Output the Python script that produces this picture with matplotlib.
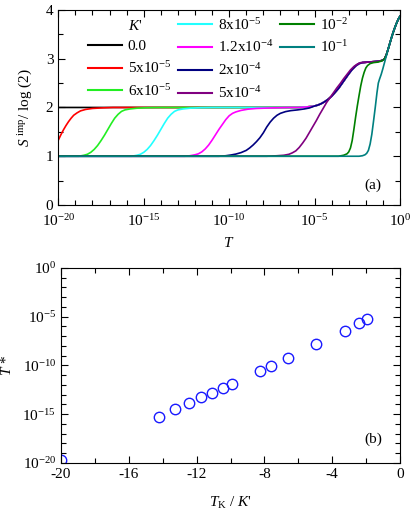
import numpy as np
import matplotlib
matplotlib.use('Agg')
import matplotlib.pyplot as plt
from matplotlib.lines import Line2D
from matplotlib.ticker import MultipleLocator, NullFormatter, LogFormatterMathtext

plt.rcParams['font.family'] = 'Liberation Serif'
plt.rcParams['mathtext.fontset'] = 'custom'
plt.rcParams['mathtext.rm'] = 'Liberation Serif'
plt.rcParams['mathtext.it'] = 'Liberation Serif:italic'
plt.rcParams['axes.unicode_minus'] = False
plt.rcParams['font.size'] = 11

# ---- panel (a): S_imp / log 2 against log10 T ----
tail_logT = [-6.0, -5.5, -5.2, -5.0, -4.8, -4.6, -4.4, -4.2, -4.0, -3.8, -3.6, -3.4,
             -3.2, -3.0, -2.8, -2.6, -2.4, -2.2, -1.9, -1.5, -1.2, -1.0, -0.9, -0.8,
             -0.7, -0.6, -0.5, -0.4, -0.3, -0.2, -0.1, 0.0]
tail_S = [2.0, 2.01, 2.02, 2.03, 2.05, 2.08, 2.12, 2.17, 2.23, 2.31, 2.39, 2.49,
          2.59, 2.69, 2.78, 2.85, 2.9, 2.92, 2.93, 2.94, 2.95, 2.97, 3.0, 3.08,
          3.19, 3.31, 3.43, 3.54, 3.64, 3.73, 3.81, 3.87]

k0_logT = [-20.0]
k0_S = [2.0]

k5e5_logT = [-20.0, -19.85, -19.7, -19.55, -19.4, -19.25, -19.1, -18.9, -18.7, -18.4,
             -18.0, -17.5, -16.8]
k5e5_S = [1.33, 1.44, 1.54, 1.63, 1.71, 1.78, 1.84, 1.89, 1.93, 1.96, 1.98, 1.99, 2.0]

k6e5_logT = [-20.0, -18.8, -18.5, -18.3, -18.1, -17.9, -17.7, -17.5, -17.3, -17.1,
             -16.9, -16.7, -16.5, -16.3, -16.1, -15.8, -15.4, -14.8, -14.0]
k6e5_S = [1.0, 1.0, 1.02, 1.04, 1.08, 1.14, 1.22, 1.32, 1.43, 1.55, 1.67, 1.78, 1.86,
          1.92, 1.95, 1.97, 1.985, 1.995, 2.0]

k8e5_logT = [-20.0, -15.7, -15.4, -15.2, -15.0, -14.8, -14.6, -14.4, -14.2, -14.0,
             -13.8, -13.6, -13.4, -13.2, -13.0, -12.7, -12.3, -11.7, -10.9]
k8e5_S = [1.0, 1.0, 1.02, 1.04, 1.08, 1.14, 1.22, 1.32, 1.43, 1.55, 1.67, 1.78, 1.86,
          1.92, 1.95, 1.97, 1.985, 1.995, 2.0]

k12e4_logT = [-20.0, -12.6, -12.3, -12.0, -11.8, -11.6, -11.4, -11.2, -11.0, -10.8,
              -10.6, -10.4, -10.2, -10.0, -9.8, -9.6, -9.3, -8.9, -8.4, -7.6, -6.5]
k12e4_S = [1.0, 1.0, 1.01, 1.03, 1.05, 1.09, 1.15, 1.23, 1.33, 1.44, 1.55, 1.65, 1.75,
           1.83, 1.88, 1.91, 1.94, 1.965, 1.98, 1.99, 2.0]

k2e4_logT = [-20.0, -10.6, -10.2, -9.9, -9.6, -9.3, -9.0, -8.8, -8.6, -8.4, -8.2, -8.0,
             -7.8, -7.6, -7.4, -7.2, -7.0, -6.7, -6.4, -6.0, -5.6, -5.3]
k2e4_S = [1.0, 1.0, 1.01, 1.025, 1.045, 1.075, 1.12, 1.17, 1.23, 1.3, 1.38, 1.48, 1.6,
          1.7, 1.78, 1.84, 1.88, 1.915, 1.935, 1.95, 1.97, 1.99]
k2e4_tail_logT = tail_logT[3:]
k2e4_tail_S = tail_S[3:]

k5e4_logT = [-20.0, -7.8, -7.2, -6.8, -6.5, -6.3, -6.1, -5.9, -5.7, -5.5, -5.3, -5.1,
             -4.9, -4.7, -4.5, -4.3, -4.1, -3.9, -3.7, -3.5, -3.3, -3.1, -2.9, -2.7,
             -2.5, -2.3]
k5e4_S = [1.0, 1.0, 1.01, 1.02, 1.04, 1.07, 1.11, 1.18, 1.27, 1.37, 1.49, 1.61, 1.73,
          1.86, 1.98, 2.1, 2.2, 2.3, 2.4, 2.49, 2.59, 2.68, 2.77, 2.84, 2.89, 2.92]
k5e4_tail_logT = tail_logT[18:]
k5e4_tail_S = tail_S[18:]

k1e2_logT = [-20.0, -3.6, -3.3, -3.1, -3.0, -2.9, -2.8, -2.7, -2.6, -2.5, -2.4, -2.3,
             -2.2, -2.1, -2.0, -1.9, -1.75, -1.55, -1.3, -1.1, -1.0, -0.9, -0.8, -0.7,
             -0.6, -0.5, -0.4, -0.3, -0.2, -0.1, 0.0]
k1e2_S = [1.0, 1.0, 1.02, 1.05, 1.09, 1.17, 1.32, 1.55, 1.8, 2.03, 2.24, 2.44, 2.6,
          2.72, 2.81, 2.86, 2.9, 2.92, 2.93, 2.95, 2.97, 3.0, 3.08, 3.19, 3.31, 3.43,
          3.54, 3.64, 3.73, 3.81, 3.87]

k1e1_logT = [-20.0, -2.4, -2.2, -2.05, -1.95, -1.85, -1.75, -1.65, -1.55, -1.45, -1.35,
             -1.27, -1.2, -1.1, -1.0, -0.9, -0.8, -0.7, -0.6, -0.5, -0.4, -0.3, -0.2,
             -0.1, 0.0]
k1e1_S = [1.0, 1.0, 1.01, 1.03, 1.06, 1.12, 1.25, 1.45, 1.72, 2.0, 2.3, 2.5, 2.58,
          2.68, 2.8, 2.93, 3.06, 3.19, 3.31, 3.43, 3.54, 3.64, 3.73, 3.81, 3.87]

curves = [
    ('0.0', 'black', k0_logT + tail_logT, k0_S + tail_S),
    (r'5x10$^{-5}$', '#ff0000', k5e5_logT + tail_logT, k5e5_S + tail_S),
    (r'6x10$^{-5}$', '#22ee22', k6e5_logT + tail_logT, k6e5_S + tail_S),
    (r'8x10$^{-5}$', '#22ffff', k8e5_logT + tail_logT, k8e5_S + tail_S),
    (r'1.2x10$^{-4}$', '#ff00ff', k12e4_logT + tail_logT, k12e4_S + tail_S),
    (r'2x10$^{-4}$', '#000080', k2e4_logT + k2e4_tail_logT, k2e4_S + k2e4_tail_S),
    (r'5x10$^{-4}$', '#800080', k5e4_logT + k5e4_tail_logT, k5e4_S + k5e4_tail_S),
    (r'10$^{-2}$', '#008000', k1e2_logT, k1e2_S),
    (r'10$^{-1}$', '#008080', k1e1_logT, k1e1_S),
]

# ---- panel (b): T* against T_K / K' ----
tk_over_k = [-20.0, -14.23, -13.30, -12.45, -11.74, -11.07, -10.47, -9.94, -8.28,
             -7.61, -6.62, -4.96, -3.26, -2.45, -1.94]
log_tstar = [-19.73, -15.27, -14.48, -13.86, -13.24, -12.80, -12.32, -11.90, -10.57,
             -10.05, -9.19, -7.82, -6.42, -5.69, -5.21]

fig = plt.figure(figsize=(4.15, 5.12), dpi=100)
ax1 = fig.add_axes([0.1405, 0.5996, 0.8234, 0.381])
ax2 = fig.add_axes([0.147, 0.0957, 0.817, 0.381])

lines = []
for label, color, lt, s in curves:
    ln, = ax1.plot(10 ** np.array(lt), s, color=color, lw=1.2, label=label)
    lines.append(ln)

ax1.set_xscale('log')
ax1.set_xlim(1e-20, 1)
ax1.set_ylim(0, 4)
ax1.set_xticks([1e-20, 1e-15, 1e-10, 1e-5, 1])
ax1.xaxis.set_major_formatter(LogFormatterMathtext())
ax1.set_xticks([10.0 ** e for e in range(-20, 1)], minor=True)
ax1.xaxis.set_minor_formatter(NullFormatter())
ax1.yaxis.set_major_locator(MultipleLocator(1))
ax1.yaxis.set_minor_locator(MultipleLocator(0.5))
ax1.set_xlabel(r'$T$', labelpad=5)
ax1.set_ylabel(r'$S^{\rm\ imp}$/ log (2)', labelpad=8)
ax1.text(0.92, 0.1, '(a)', transform=ax1.transAxes, ha='center', va='center')

blank = Line2D([], [], color='none')
handles = [blank, lines[0], lines[1], lines[2],
           lines[3], lines[4], lines[5], lines[6],
           lines[7], lines[8], blank, blank]
labels = [r"$K$'", '0.0', r'5x10$^{-5}$', r'6x10$^{-5}$',
          r'8x10$^{-5}$', r'1.2x10$^{-4}$', r'2x10$^{-4}$', r'5x10$^{-4}$',
          r'10$^{-2}$', r'10$^{-1}$', '', '']
leg = ax1.legend(handles, labels, ncol=3, frameon=False, loc='upper left',
                 bbox_to_anchor=(0.06, 1.012), handlelength=2.2, handletextpad=0.4,
                 columnspacing=0.45, labelspacing=0.45, borderaxespad=0.2)
for h in leg.legend_handles:
    h.set_linewidth(1.5)

ax2.plot(tk_over_k, 10 ** np.array(log_tstar), 'o', mfc='none', mec='#1a1aff',
         mew=1.0, ms=7.5)
ax2.set_yscale('log')
ax2.set_xlim(-20, 0)
ax2.set_ylim(1e-20, 1)
ax2.set_xticks([-20, -16, -12, -8, -4, 0])
ax2.xaxis.set_minor_locator(MultipleLocator(2))
ax2.set_yticks([1e-20, 1e-15, 1e-10, 1e-5, 1])
ax2.yaxis.set_major_formatter(LogFormatterMathtext())
ax2.set_yticks([10.0 ** e for e in range(-20, 1)], minor=True)
ax2.yaxis.set_minor_formatter(NullFormatter())
ax2.set_xlabel(r"$T_{\rm K}$ / $K$'", labelpad=10)
ax2.set_ylabel(r'$T$ *', labelpad=6)
ax2.text(0.92, 0.12, '(b)', transform=ax2.transAxes, ha='center', va='center')

for ax in (ax1, ax2):
    ax.tick_params(which='both', direction='in', top=True, right=True, labelsize=11)
    ax.tick_params(which='major', length=5, width=0.8)
    ax.tick_params(which='minor', length=3.5, width=0.8)
    for sp in ax.spines.values():
        sp.set_linewidth(0.8)
ax1.tick_params(axis='x', which='major', pad=6)

fig.savefig('out.png', dpi=100)
